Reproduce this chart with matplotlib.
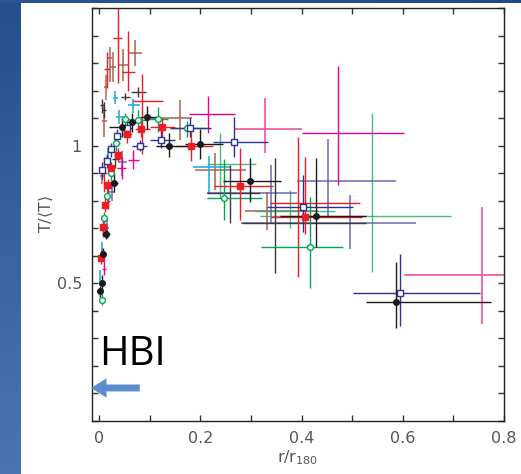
import numpy as np
import matplotlib
matplotlib.use("Agg")
import matplotlib.pyplot as plt
from matplotlib.ticker import MultipleLocator
from matplotlib.colors import LinearSegmentedColormap

# Each entry: (x, y, x_low, x_high, y_low, y_high)
black_dots = [
    (0.587, 0.431, 0.527, 0.774, 0.337, 0.579),
    (0.428, 0.746, 0.357, 0.527, 0.633, 0.954),
    (0.297, 0.872, 0.245, 0.359, 0.794, 0.954),
    (0.199, 1.006, 0.170, 0.244, 0.950, 1.060),
    (0.138, 1.000, 0.112, 0.180, 0.960, 1.045),
    (0.094, 1.103, 0.080, 0.115, 1.060, 1.145),
    (0.065, 1.086, 0.055, 0.080, 1.050, 1.120),
    (0.044, 1.067, 0.020, 0.055, 1.030, 1.100),
    (0.030, 0.866, 0.022, 0.036, 0.830, 0.900),
    (0.0125, 0.678, 0.006, 0.020, 0.660, 0.700),
    (0.008, 0.605, 0.004, 0.012, 0.580, 0.630),
    (0.005, 0.500, 0.002, 0.008, 0.470, 0.530),
    (0.0015, 0.472, 0.000, 0.004, 0.450, 0.490),
]
black_cross = [
    (0.076, 1.196, 0.063, 0.093, 1.178, 1.214),
    (0.051, 1.178, 0.043, 0.060, 1.165, 1.190),
    (0.005, 1.148, 0.002, 0.008, 1.120, 1.170),
    (0.010, 1.130, 0.006, 0.014, 1.100, 1.160),
    (0.347, 0.720, 0.282, 0.527, 0.536, 0.954),
    (0.258, 0.829, 0.212, 0.318, 0.720, 0.930),
    (0.032, 0.950, 0.025, 0.040, 0.920, 0.980),
    (0.015, 0.680, 0.010, 0.022, 0.665, 0.695),
]
red_squares = [
    (0.406, 0.742, 0.340, 0.520, 0.680, 0.960),
    (0.279, 0.855, 0.227, 0.343, 0.730, 0.990),
    (0.181, 1.000, 0.150, 0.225, 0.945, 1.070),
    (0.123, 1.069, 0.100, 0.150, 1.030, 1.100),
    (0.082, 1.060, 0.070, 0.100, 1.030, 1.090),
    (0.054, 1.041, 0.045, 0.065, 1.010, 1.070),
    (0.036, 0.967, 0.030, 0.043, 0.940, 0.990),
    (0.024, 0.918, 0.018, 0.030, 0.890, 0.940),
    (0.0165, 0.857, 0.012, 0.021, 0.830, 0.880),
    (0.011, 0.785, 0.007, 0.015, 0.760, 0.810),
    (0.0066, 0.706, 0.003, 0.010, 0.680, 0.730),
    (0.0033, 0.593, 0.001, 0.006, 0.570, 0.620),
]
red_cross = [
    (0.392, 0.790, 0.337, 0.515, 0.524, 1.030),
    (0.084, 1.163, 0.066, 0.126, 0.970, 1.260),
    (0.036, 1.390, 0.028, 0.044, 1.226, 1.500),
    (0.057, 1.269, 0.045, 0.070, 1.200, 1.418),
    (0.016, 1.280, 0.010, 0.022, 1.210, 1.340),
    (0.010, 0.900, 0.004, 0.016, 0.830, 0.960),
]
brown_cross = [
    (0.0705, 1.338, 0.057, 0.085, 1.290, 1.385),
    (0.0474, 1.293, 0.038, 0.057, 1.235, 1.350),
    (0.0277, 1.287, 0.022, 0.034, 1.230, 1.340),
    (0.021, 1.317, 0.017, 0.025, 1.230, 1.360),
    (0.013, 1.212, 0.010, 0.016, 1.165, 1.257),
    (0.010, 1.090, 0.006, 0.016, 1.030, 1.150),
    (0.331, 0.764, 0.288, 0.433, 0.694, 0.833),
    (0.229, 0.912, 0.190, 0.290, 0.840, 0.975),
    (0.160, 1.100, 0.103, 0.183, 1.020, 1.166),
    (0.005, 0.890, 0.002, 0.010, 0.860, 0.920),
]
blue_squares = [
    (0.594, 0.465, 0.501, 0.753, 0.345, 0.607),
    (0.402, 0.778, 0.331, 0.502, 0.688, 0.893),
    (0.266, 1.0145, 0.225, 0.334, 0.960, 1.105),
    (0.179, 1.063, 0.140, 0.220, 1.030, 1.100),
    (0.121, 1.020, 0.100, 0.150, 0.990, 1.060),
    (0.081, 1.000, 0.065, 0.095, 0.980, 1.020),
    (0.054, 1.063, 0.045, 0.065, 1.040, 1.090),
    (0.0356, 1.035, 0.030, 0.042, 1.010, 1.060),
    (0.023, 0.987, 0.018, 0.028, 0.960, 1.010),
    (0.0145, 0.946, 0.010, 0.019, 0.920, 0.970),
    (0.005, 0.912, 0.002, 0.009, 0.880, 0.940),
]
blue_cross = [
    (0.453, 0.872, 0.390, 0.587, 0.736, 1.023),
    (0.496, 0.720, 0.281, 0.627, 0.624, 0.820),
    (0.339, 0.829, 0.212, 0.391, 0.720, 0.930),
    (0.045, 0.940, 0.038, 0.055, 0.890, 0.980),
    (0.015, 0.700, 0.012, 0.020, 0.670, 0.730),
    (0.025, 0.830, 0.018, 0.032, 0.800, 0.860),
]
green_circles = [
    (0.4165, 0.631, 0.320, 0.481, 0.482, 0.815),
    (0.246, 0.809, 0.2135, 0.321, 0.730, 0.950),
    (0.1726, 1.063, 0.140, 0.210, 1.030, 1.090),
    (0.1166, 1.096, 0.100, 0.135, 1.050, 1.140),
    (0.077, 1.093, 0.060, 0.095, 1.060, 1.130),
    (0.0507, 1.098, 0.042, 0.060, 1.070, 1.120),
    (0.034, 1.008, 0.028, 0.040, 0.980, 1.040),
    (0.023, 0.900, 0.018, 0.028, 0.870, 0.930),
    (0.0145, 0.817, 0.010, 0.019, 0.790, 0.850),
    (0.0099, 0.736, 0.006, 0.014, 0.710, 0.760),
    (0.0046, 0.440, 0.002, 0.007, 0.420, 0.460),
]
green_cross = [
    (0.540, 0.745, 0.3176, 0.695, 0.542, 1.117),
    (0.376, 0.763, 0.310, 0.465, 0.700, 0.840),
    (0.239, 0.932, 0.212, 0.309, 0.810, 1.047),
]
cyan_cross = [
    (0.031, 1.174, 0.027, 0.036, 1.150, 1.200),
    (0.067, 1.148, 0.057, 0.080, 1.120, 1.170),
    (0.0395, 1.105, 0.033, 0.046, 1.080, 1.130),
    (0.2175, 0.924, 0.186, 0.258, 0.829, 0.962),
    (0.017, 0.960, 0.014, 0.020, 0.930, 0.990),
    (0.005, 0.620, 0.003, 0.008, 0.600, 0.650),
    (0.002, 0.520, 0.001, 0.004, 0.490, 0.550),
]
magenta_cross = [
    (0.4725, 1.047, 0.400, 0.603, 0.857, 1.289),
    (0.2155, 1.114, 0.178, 0.268, 1.047, 1.180),
    (0.066, 0.948, 0.057, 0.079, 0.915, 0.985),
    (0.044, 0.918, 0.035, 0.052, 0.880, 0.960),
    (0.009, 0.551, 0.005, 0.013, 0.530, 0.580),
    (0.018, 0.800, 0.015, 0.022, 0.770, 0.830),
    (0.008, 0.700, 0.004, 0.012, 0.670, 0.720),
]
pink_cross = [
    (0.3275, 1.059, 0.267, 0.401, 0.975, 1.174),
    (0.757, 0.530, 0.603, 0.850, 0.352, 0.776),
]

x_ticks = [0, 0.2, 0.4, 0.6, 0.8]
x_ticklabels = ["0", "0.2", "0.4", "0.6", "0.8"]
y_ticks = [0.5, 1.0]
y_ticklabels = ["0.5", "1"]

W, H = 521, 474
fig = plt.figure(figsize=(W / 100, H / 100), dpi=100)
fig.patch.set_facecolor("white")

# slide background strips
grad = np.linspace(0, 1, 256).reshape(-1, 1)
cm = LinearSegmentedColormap.from_list("bg", ["#244f8f", "#4a74b6"])
bl = fig.add_axes([0, 0, 21 / W, 1])
bl.imshow(grad, aspect="auto", cmap=cm, extent=[0, 1, 0, 1], origin="upper")
bl.axis("off")
bt = fig.add_axes([0, 1 - 3 / H, 1, 3 / H])
bt.imshow(np.linspace(0, 1, 256).reshape(1, -1), aspect="auto",
          cmap=LinearSegmentedColormap.from_list("bt", ["#2a5592", "#1d4a8a"]))
bt.axis("off")

ax = fig.add_axes([91.7 / W, (H - 421) / H, (504 - 91.7) / W, (421 - 8) / H])


def draw(points, color, fmt="none", mfc=None, ms=4.0, alpha=1.0, lw=1.0, z=2):
    arr = np.array(points)
    x, y, x0, x1, y0, y1 = arr.T
    ax.errorbar(x, y, xerr=[x - x0, x1 - x], yerr=[y - y0, y1 - y], fmt=fmt,
                color=color, ecolor=color, elinewidth=lw, capsize=0, ms=ms,
                mfc=mfc if mfc is not None else color, mec=color, mew=1.0,
                alpha=alpha, zorder=z)


draw(brown_cross, "#a85a45", alpha=0.75, lw=1.4)
draw(pink_cross, "#f06aa8", lw=1.4)
draw(cyan_cross, "#29aee6", lw=1.2)
draw(green_cross, "#2bb066", alpha=0.85)
draw(blue_cross, "#5a60ab", alpha=0.85, lw=1.2)
draw(black_cross, "#3a3a3a", lw=1.0)
draw(red_cross, "#ee1c25", lw=1.0)
draw(magenta_cross, "#ec008c", lw=1.0)
draw(green_circles, "#00a651", fmt="o", mfc="white", ms=4.2)
draw(blue_squares, "#2e3192", fmt="s", mfc="white", ms=4.6)
draw(red_squares, "#ee1c25", fmt="s", ms=4.0)
draw(black_dots, "#1a1a1a", fmt="o", ms=4.0)

ax.set_xlim(-0.015, 0.8)
ax.set_ylim(0, 1.5)
ax.set_xticks(x_ticks)
ax.set_xticklabels(x_ticklabels)
ax.set_yticks(y_ticks)
ax.set_yticklabels(y_ticklabels)
ax.xaxis.set_minor_locator(MultipleLocator(0.1))
ax.yaxis.set_minor_locator(MultipleLocator(0.1))
ax.tick_params(which="both", direction="in", top=True, right=True,
               length=4.5, width=1.0, color="#333333", labelsize=11.5,
               labelcolor="#555555", pad=7)
for s in ax.spines.values():
    s.set_linewidth(1.0)
    s.set_color("#222222")

ax.set_ylabel(r"T/$\langle$T$\rangle$", fontsize=11.5, color="#555555", labelpad=1)
ax.set_xlabel(r"r/r$_{180}$", fontsize=11.5, color="#555555", labelpad=2)

ax.text(0.0, 0.24, "HBI", fontsize=29, family="Open Sans", color="black",
        ha="left", va="center", zorder=5)
ax.annotate("", xy=(-0.016, 0.12), xytext=(0.080, 0.12),
            arrowprops=dict(arrowstyle="simple,head_width=1.4,head_length=1.1,tail_width=0.5",
                            color="#5b8ccb", lw=0, shrinkA=0, shrinkB=0),
            annotation_clip=False, zorder=6)

fig.savefig("out.png", dpi=100)
